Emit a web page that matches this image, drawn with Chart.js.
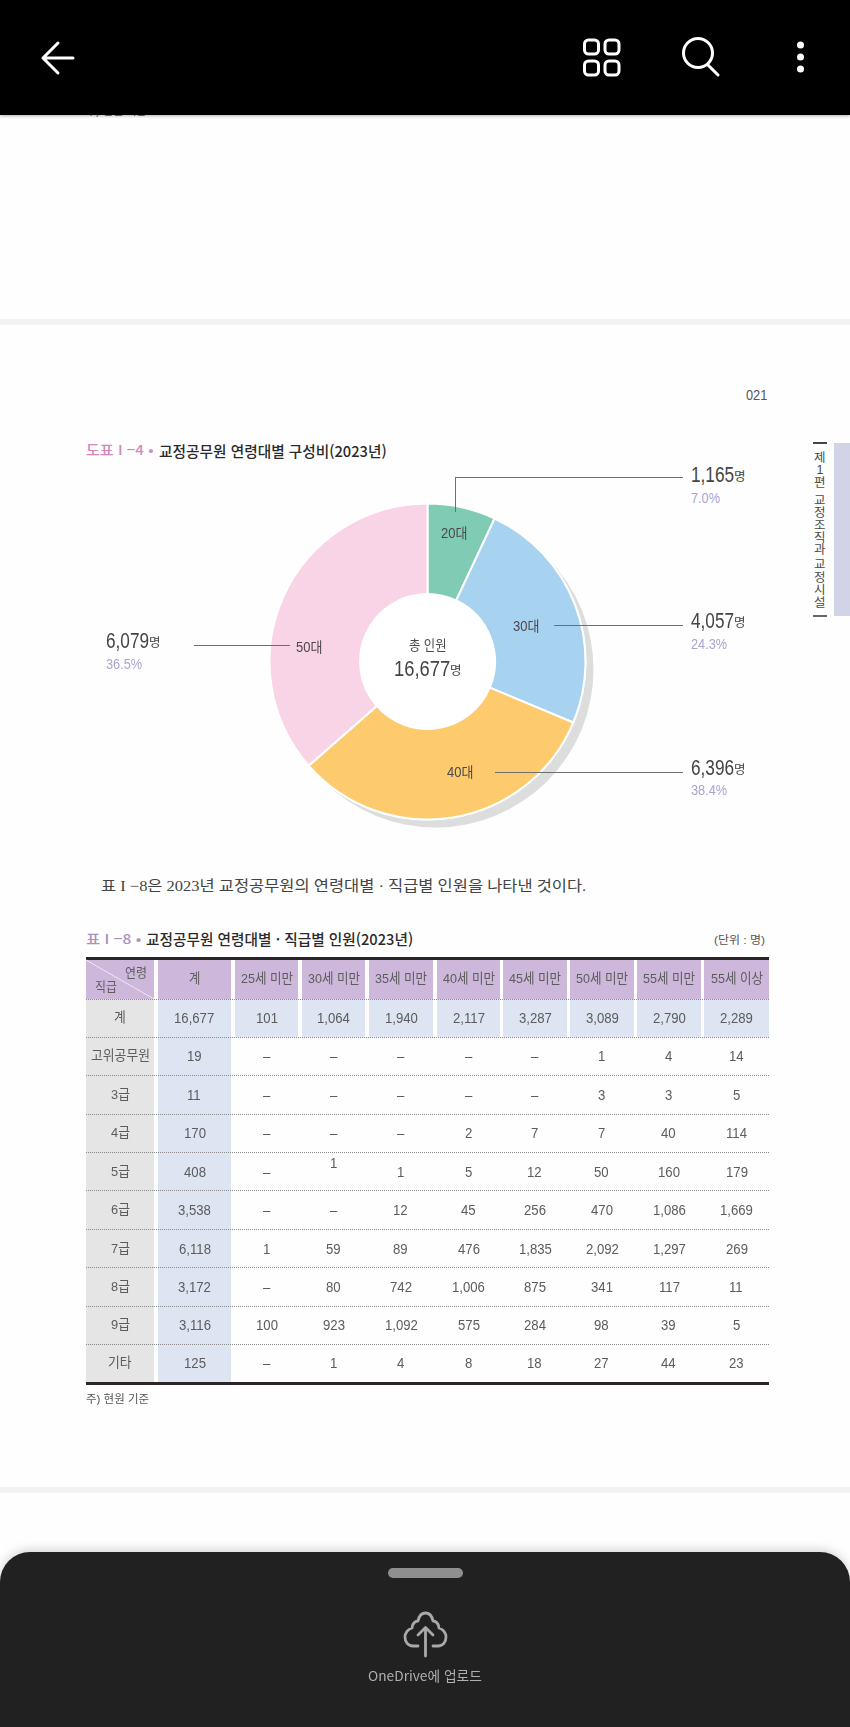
<!DOCTYPE html>
<html lang="ko"><head><meta charset="utf-8">
<script src="https://cdn.jsdelivr.net/npm/chart.js@4/dist/chart.umd.min.js"></script>
<style>
html,body{margin:0;padding:0;background:#fefefe;}
#page{position:relative;width:850px;height:1727px;overflow:hidden;background:#fefefe;font-family:"Liberation Sans","Noto Sans CJK KR",sans-serif;}
#page span.t{position:absolute;white-space:pre;line-height:1;transform-origin:left center;}
#page div.b{position:absolute;}
canvas{position:absolute;}
svg{position:absolute;overflow:visible;}
</style></head><body><div id="page"></div>
<script>
// ---- Doughnut data ----
const ageGroups=["20대","30대","40대","50대"];
// Slice sizes as drawn in the picture (the 40대 slice is drawn at about 32%).
const sliceValues=[1165,4057,5376,6079];
// Figures as printed beside the slices in the picture.
const printedCounts=["1,165","4,057","6,396","6,079"];
const printedShares=["7.0%","24.3%","38.4%","36.5%"];
const sliceColors=["#80cbb4","#a8d3f0","#fdcb6e","#f8d4e6"];
const totalLabel="16,677";
// ---- Table data ----
const tableColumns=["계","25세 미만","30세 미만","35세 미만","40세 미만","45세 미만","50세 미만","55세 미만","55세 이상"];
const tableRows=["계","고위공무원","3급","4급","5급","6급","7급","8급","9급","기타"];
const rowTotal=["16,677","101","1,064","1,940","2,117","3,287","3,089","2,790","2,289"];
const rowSenior=["19","–","–","–","–","–","1","4","14"];
const rowGrade3=["11","–","–","–","–","–","3","3","5"];
const rowGrade4=["170","–","–","–","2","7","7","40","114"];
const rowGrade5=["408","–","1","1","5","12","50","160","179"];
const rowGrade6=["3,538","–","–","12","45","256","470","1,086","1,669"];
const rowGrade7=["6,118","1","59","89","476","1,835","2,092","1,297","269"];
const rowGrade8=["3,172","–","80","742","1,006","875","341","117","11"];
const rowGrade9=["3,116","100","923","1,092","575","284","98","39","5"];
const rowOther=["125","–","1","4","8","18","27","44","23"];
const tableValues=[rowTotal,rowSenior,rowGrade3,rowGrade4,rowGrade5,rowGrade6,rowGrade7,rowGrade8,rowGrade9,rowOther];
const sideTabChars=["제","1","편","교","정","조","직","과","교","정","시","설"];

const page=document.getElementById('page');
function box(x,y,w,h,bg,extra){const d=document.createElement('div');d.className='b';
  d.style.cssText=`left:${x}px;top:${y}px;width:${w}px;height:${h}px;background:${bg};${extra||''}`;page.appendChild(d);return d;}
// text: anchor 'l' or 'c'; w = target width, sx = fixed horizontal scale
function T(s,x,y,size,color,o){o=o||{};const e=document.createElement('span');e.className='t';e.textContent=s;
  e.style.fontSize=size+'px';e.style.color=color;if(o.weight)e.style.fontWeight=o.weight;if(o.font)e.style.fontFamily=o.font;
  page.appendChild(e);const mw=e.offsetWidth,mh=e.offsetHeight;const sx=o.w?o.w/mw:(o.sx||1);const w=mw*sx;
  e.style.left=(o.a==='c'?x-w/2:x)+'px';e.style.top=(y-mh/2)+'px';e.style.transform=`scaleX(${sx})`;return e;}

// page bands
box(0,319,850,6,'#f2f2f2');box(0,1487,850,6,'#f2f2f2');
// clipped footnote of the previous page, under the bar
T('주) 현원 기준',86,111,11,'#555',{w:60});
box(0,0,850,115,'#000','box-shadow:0 1px 3px rgba(0,0,0,.3);');

// page furniture
T('021',746,395,14,'#555',{w:21});
box(834,443,16,173,'#d3d3e8');box(813,442,14,1.5,'#444');box(813,615,14,1.5,'#666');
const sideTabY=[458,470,483,501,513,526,538,550,565,578,590,603];
sideTabChars.forEach((c,i)=>T(c,820,sideTabY[i],12.5,'#4a4a4a',{a:'c'}));

// figure heading
T('도표 I −4 •',86,450,13.5,'#d288b8',{w:68,weight:500,font:'"Noto Sans CJK KR",sans-serif'});
T('교정공무원 연령대별 구성비(2023년)',159,450,15,'#2a2a2a',{w:228,weight:500,font:'"Noto Sans CJK KR",sans-serif'});

// doughnut
const cv=document.createElement('canvas');cv.width=359;cv.height=351;cv.style.left='248px';cv.style.top='486px';cv.style.width='359px';cv.style.height='351px';page.appendChild(cv);
const discShadow={id:'discShadow',beforeDatasetsDraw(c){const a=c.getDatasetMeta(0).data[0];const g=c.ctx;g.save();
  g.fillStyle='#dcdddd';g.beginPath();g.arc(a.x+8,a.y+8,a.outerRadius,0,Math.PI*2);g.fill();
  g.fillStyle='#ffffff';g.beginPath();g.arc(a.x,a.y,a.outerRadius+1,0,Math.PI*2);g.fill();g.restore();}};
new Chart(cv,{type:'doughnut',data:{labels:ageGroups,datasets:[{data:sliceValues,backgroundColor:sliceColors,borderColor:'#ffffff',borderWidth:2}]},
  options:{responsive:false,animation:false,radius:158,cutout:'42.7%',rotation:0,layout:{padding:0},plugins:{legend:{display:false},tooltip:{enabled:false}}},plugins:[discShadow]});

// leader lines
const LC='#6f6f6f';
box(455,477,228,1.4,LC);box(455,477,1.4,35,LC);
box(554,625,129,1.4,LC);box(495,771.500,188,1.4,LC);box(193.5,644.500,96,1.4,LC);
// slice names
const nameSpots=[[454,533],[526,626],[460,772],[309,647]];
ageGroups.forEach((n,i)=>T(n,nameSpots[i][0],nameSpots[i][1],14,'#4a4a4a',{a:'c',w:26}));
// centre
T('총 인원',427.7,644.5,14,'#4a4a4a',{a:'c',w:38});
T(totalLabel,394,669,22,'#444',{w:56});T('명',450,671,12.5,'#444',{w:12});
// outer labels
const outer=[[691,475,498,29],[691,621,644,36.5],[691,768,790,36.5],[106,641,664,36.5]];
outer.forEach((p,i)=>{T(printedCounts[i],p[0],p[1],22,'#444',{w:43});T('명',p[0]+43,p[1]+2,12.5,'#444',{w:12});
  T(printedShares[i],p[0],p[2],14,'#a9a4d0',{w:p[3]});});

// paragraph
T('표 I −8은 2023년 교정공무원의 연령대별 · 직급별 인원을 나타낸 것이다.',101,886,15,'#444',{w:485,font:'"Liberation Serif","Noto Sans CJK KR",serif'});

// table heading
T('표 I −8 •',86,938.5,13.5,'#ab90bd',{w:55,weight:500,font:'"Noto Sans CJK KR",sans-serif'});
T('교정공무원 연령대별 · 직급별 인원(2023년)',146,938.5,15,'#2a2a2a',{w:267,weight:500,font:'"Noto Sans CJK KR",sans-serif'});
T('(단위 : 명)',714,941,11.5,'#555',{w:51});

// table
const colX=[[86,154],[158,231],[235,298],[302,365],[369,433],[437,500],[503,567],[570,634],[637,701],[704,769]];
const rowY=[999,1037,1075.3,1114,1152.3,1190.7,1229.3,1267.7,1306,1344.3,1382];
const H='#cdb8dc',BL='#dde5f2',GR='#e5e5e5',TX='#5c5c5c';
colX.forEach(c=>box(c[0],959,c[1]-c[0],40,H));
box(86,999,68,383,GR);box(158,999,73,383,BL);
colX.slice(2).forEach(c=>box(c[0],999,c[1]-c[0],38,BL));
// dotted rules and the two heavy rules
rowY.slice(0,-1).forEach(y=>box(86,y-0.5,683,0,'transparent','border-top:1px dotted #8a8a8a;'));
box(86,956.5,683,3,'#2a2628');box(86,1381.5,683,3,'#2a2628');
// header
const ns='http://www.w3.org/2000/svg';const dg=document.createElementNS(ns,'svg');dg.setAttribute('width','850');dg.setAttribute('height','1727');dg.style.cssText='left:0;top:0;';
dg.innerHTML='<line x1="86" y1="960" x2="154" y2="999" stroke="#f0e6f4" stroke-width="1"/>';page.appendChild(dg);
T('연령',125,972,13,TX,{w:22});T('직급',95,986,13,TX,{w:22});
tableColumns.forEach((n,i)=>{const c=colX[i+1];T(n,(c[0]+c[1])/2,979,13.5,TX,{a:'c',w:i?52:11});});
// body
tableRows.forEach((r,ri)=>{const y=(rowY[ri]+rowY[ri+1])/2;T(r,120,y,13.5,TX,{a:'c',sx:0.95});
  tableValues[ri].forEach((v,ci)=>{const c=colX[ci+1];
    // the "1" in 5급 / 30세 미만 sits above its row's baseline in the picture
    const lift=(r==='5급'&&ci===2)?9:0;
    T(v,(c[0]+c[1])/2,y-lift,14,TX,{a:'c',sx:0.94});});});
T('주) 현원 기준',86,1400,11.5,'#555',{w:63});

// bottom sheet
box(0,1552,850,175,'#212121','border-radius:30px 30px 0 0;box-shadow:0 -3px 10px rgba(0,0,0,.15);');
box(388,1568,75,10,'#8f8f8f','border-radius:5px;');
const ic=document.createElementNS(ns,'svg');ic.setAttribute('width','850');ic.setAttribute('height','1727');ic.style.cssText='left:0;top:0;';
ic.innerHTML='<g fill="none" stroke="#a9a9a9" stroke-width="2.8" stroke-linecap="round" stroke-linejoin="round">'
+'<path d="M418 1646h-5c-5 0-8-4-8-9 0-4 3-8 7-9 0-5 4-7 6-7 1-5 4-8 7.500-8s6.500 3 7.500 8c2 0 6 2 6 7 4 1 7 5 7 9 0 5-3 9-8 9h-5"/>'
+'<path d="M425.500 1656v-28M418 1635l7.500-7.500 7.500 7.500"/></g>'
+'<g fill="none" stroke="#fff" stroke-width="3" stroke-linecap="round" stroke-linejoin="round">'
+'<path d="M73 58H43M58 43L43 58l15 15"/>'
+'<rect x="584.500" y="40" width="14" height="14" rx="4"/><rect x="605" y="40" width="14" height="14" rx="4"/><rect x="584.500" y="61" width="14" height="14" rx="4"/><rect x="605" y="61" width="14" height="14" rx="4"/>'
+'<circle cx="698" cy="53" r="14.500"/><path d="M708 65l10 10"/></g>'
+'<g fill="#fff"><circle cx="800.500" cy="45" r="3.500"/><circle cx="800.500" cy="57" r="3.500"/><circle cx="800.500" cy="69" r="3.500"/></g>';
page.appendChild(ic);
T('OneDrive에 업로드',368,1676,13.5,'#b0b0b0',{w:114,font:'"Noto Sans CJK KR",sans-serif'});
</script></body></html>
